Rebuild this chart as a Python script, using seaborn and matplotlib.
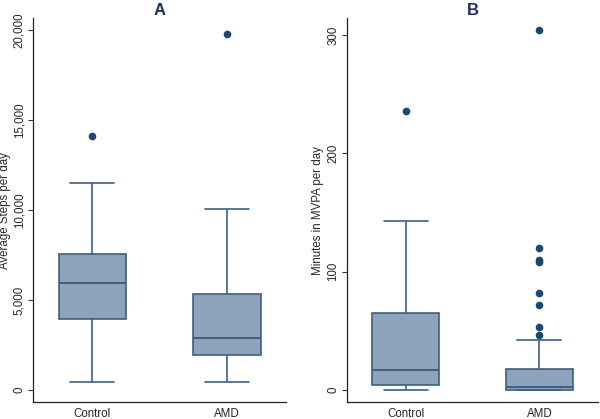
import matplotlib
matplotlib.use("Agg")
import matplotlib.pyplot as plt
import seaborn as sns
import pandas as pd
import numpy as np

# values (quartiles, whisker ends and outliers per group)
groups = ["Control", "AMD"]
steps_control = [450, 2000, 3960, 5000, 5950, 7000, 7575, 11500, 14130]
steps_amd = [450, 1000, 1945, 2500, 2905, 4000, 5335, 10060, 19780]
mvpa_control = [0, 2, 4, 10, 17, 40, 65, 143, 236]
mvpa_amd = [0, 0, 0, 0, 0, 0, 0, 0, 0,
            0.4, 0.8, 1.0, 1.3, 1.6, 1.9, 2.2, 2.4, 2.6,
            2.8, 4, 5, 7, 9, 11, 13, 15, 16.5,
            18, 42.3, 46.5, 53, 72, 82, 108, 110, 120.3, 304]

df_a = pd.DataFrame({
    "group": ["Control"] * len(steps_control) + ["AMD"] * len(steps_amd),
    "value": steps_control + steps_amd,
})
df_b = pd.DataFrame({
    "group": ["Control"] * len(mvpa_control) + ["AMD"] * len(mvpa_amd),
    "value": mvpa_control + mvpa_amd,
})

sns.set_style("white")
plt.rcParams['font.family'] = ['Liberation Sans', 'DejaVu Sans']

fill = "#8ea3ba"
edge = "#3d5f80"
dot = "#1a476f"
title_col = "#1c2f5c"

fig = plt.figure(figsize=(6, 4.19), dpi=100)
ax1 = fig.add_axes([0.055, 0.0406, 0.422, 0.916])
ax2 = fig.add_axes([0.578, 0.0406, 0.419, 0.916])

panels = [
    (ax1, df_a, "A", "Average Steps per day", (-667, 20667), [0, 5000, 10000, 15000, 20000]),
    (ax2, df_b, "B", "Minutes in MVPA per day", (-10.1, 314.4), [0, 100, 200, 300]),
]

for ax, df, title, ylabel, ylim, yt in panels:
    sns.boxplot(data=df, x="group", y="value", order=groups, ax=ax,
                width=0.5, whis=1.5, color=fill, saturation=1,
                linecolor=edge, linewidth=1.2,
                boxprops=dict(facecolor=fill, edgecolor=edge),
                medianprops=dict(color=edge, linewidth=1.4),
                whiskerprops=dict(color=edge),
                capprops=dict(color=edge),
                capwidths=0.33,
                flierprops=dict(marker="o", markerfacecolor=dot, markeredgecolor=dot,
                                markersize=4.5))
    ax.set_xlim(-0.44, 1.44)
    ax.set_ylim(*ylim)
    ax.set_yticks(yt)
    ax.set_yticklabels([f"{v:,}" for v in yt], rotation=90, va="center", fontsize=8.3)
    ax.tick_params(axis="y", direction="out", length=3.5, width=0.8, color="#333333", pad=2, left=True)
    ax.tick_params(axis="x", length=0, labelsize=8.3, pad=4)
    ax.set_xlabel("")
    ax.set_ylabel(ylabel, fontsize=8.3, labelpad=2)
    ax.set_title(title, fontsize=12, fontweight="bold", color=title_col, pad=2)
    for s in ["top", "right"]:
        ax.spines[s].set_visible(False)
    for s in ["left", "bottom"]:
        ax.spines[s].set_color("#222222")
        ax.spines[s].set_linewidth(0.9)

fig.savefig("out.png", dpi=100)
